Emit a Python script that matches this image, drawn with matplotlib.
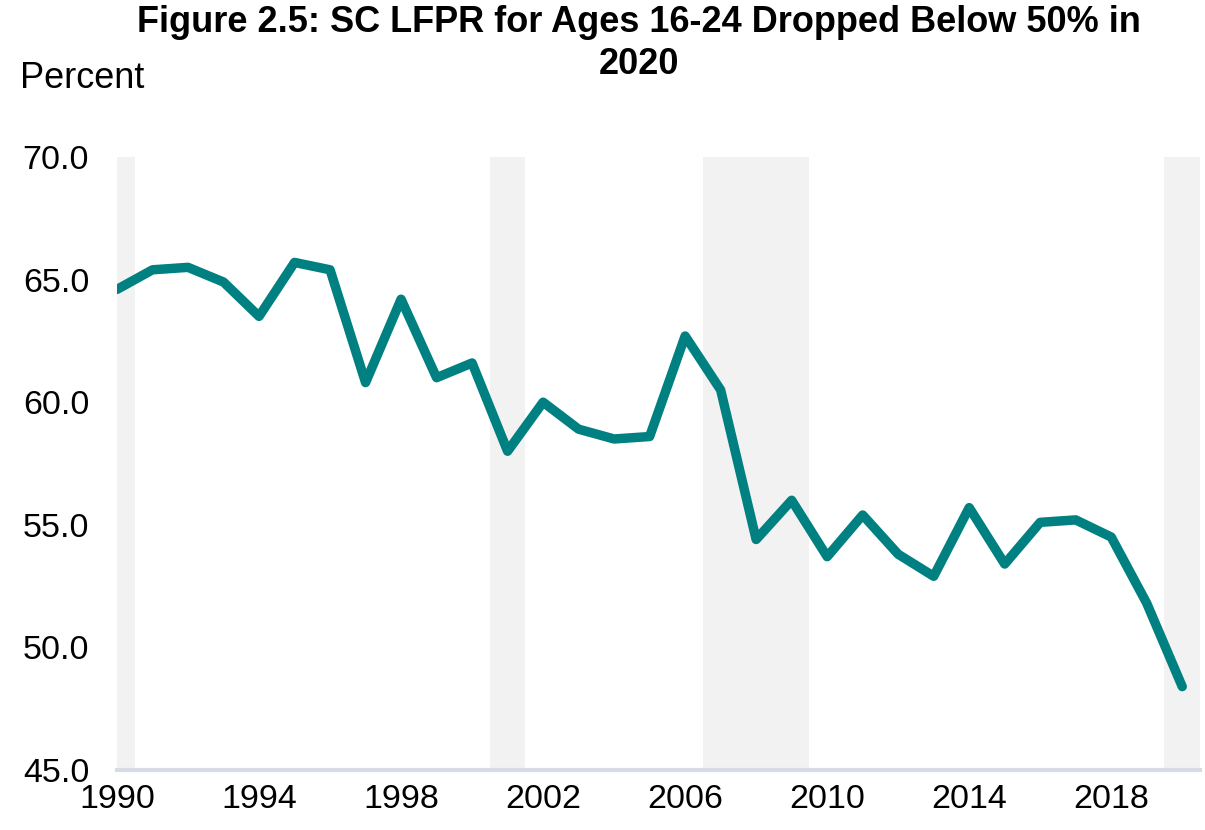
import matplotlib.pyplot as plt
import numpy as np

# SC labor force participation rate, ages 16-24
years = list(range(1990, 2021))
lfpr = [64.6, 65.4, 65.5, 64.9, 63.5, 65.7, 65.4, 60.8, 64.2, 61.0,
        61.6, 58.0, 60.0, 58.9, 58.5, 58.6, 62.7, 60.5, 54.4, 56.0,
        53.7, 55.4, 53.8, 52.9, 55.7, 53.4, 55.1, 55.2, 54.5, 51.8, 48.4]

# recession bars (start, end) in years
recessions = [(1989.5, 1990.5), (2000.5, 2001.5), (2006.5, 2009.5), (2019.5, 2020.5)]

xticks = [1990, 1994, 1998, 2002, 2006, 2010, 2014, 2018]
yticks = [45.0, 50.0, 55.0, 60.0, 65.0, 70.0]

plt.rcParams['font.family'] = ['Liberation Sans', 'DejaVu Sans']

fig = plt.figure(figsize=(12.05, 8.3), dpi=100)
ax = fig.add_axes([117 / 1205, 60 / 830, 1083 / 1205, 613 / 830])

for start, end in recessions:
    ax.axvspan(start, end, color='#f2f2f2', lw=0, zorder=0)

ax.plot(years, lfpr, color='#008080', lw=6.8, solid_capstyle='round',
        solid_joinstyle='round', zorder=3)

ax.set_xlim(1990, 2020.5)
ax.set_ylim(45, 70)
ax.set_xticks(xticks)
ax.set_xticklabels([str(y) for y in xticks])
ax.set_yticks(yticks)
ax.set_yticklabels([f"{v:.1f}" for v in yticks])
ax.tick_params(axis='both', length=0, labelsize=24.5, colors='#000000')
ax.tick_params(axis='y', pad=20)
ax.tick_params(axis='x', pad=10)

for side in ['top', 'right', 'left']:
    ax.spines[side].set_visible(False)
ax.spines['bottom'].set_color('#d6dbe5')
ax.spines['bottom'].set_linewidth(3)
ax.spines['bottom'].set_zorder(4)

fig.text(639 / 1205, 1 - 22 / 830, "Figure 2.5: SC LFPR for Ages 16-24 Dropped Below 50% in",
         ha='center', va='center', fontsize=26, fontweight='bold')
fig.text(639 / 1205, 1 - 65 / 830, "2020",
         ha='center', va='center', fontsize=26, fontweight='bold')
fig.text(20 / 1205, 1 - 78 / 830, "Percent", ha='left', va='center', fontsize=26)

fig.savefig("out.png", dpi=100)
